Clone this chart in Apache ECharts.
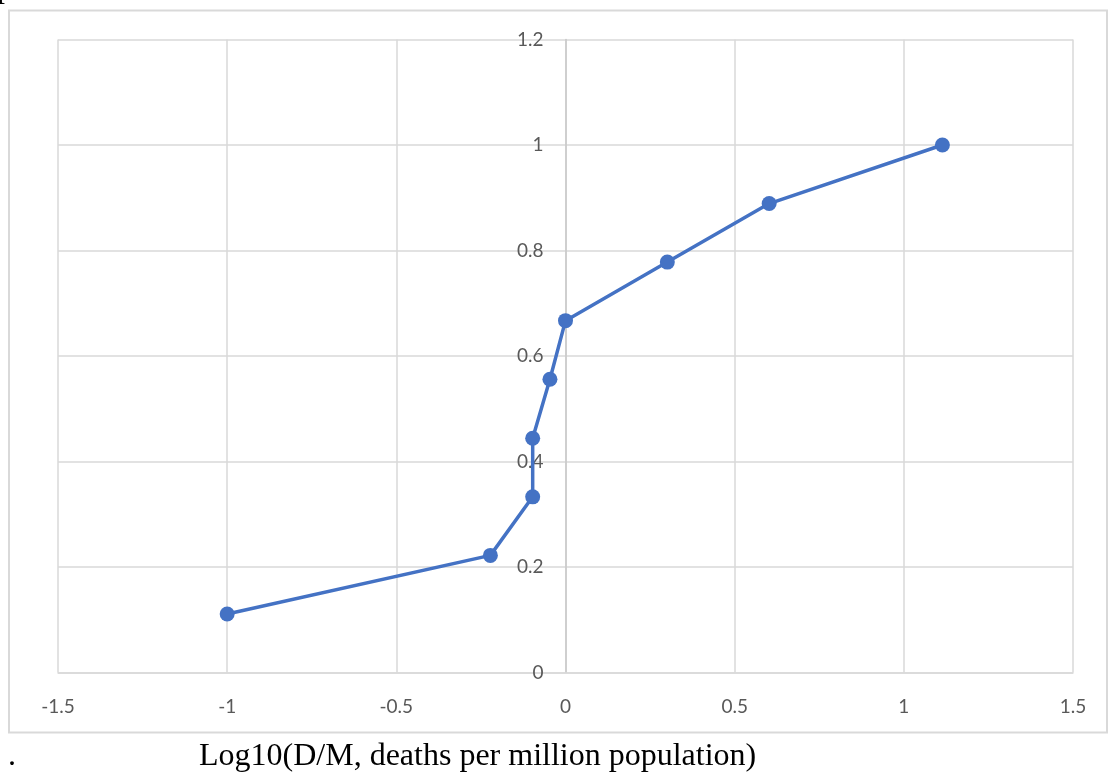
<!DOCTYPE html>
<html>
<head>
<meta charset="utf-8">
<title>Log10(D/M) curve</title>
<script src="https://cdn.jsdelivr.net/npm/echarts@6/dist/echarts.min.js"></script>
<style>
  html, body { margin: 0; padding: 0; background: #ffffff; }
  #chart { width: 1110px; height: 774px; }
</style>
</head>
<body>
<div id="chart"></div>
<script>
// Log10 of deaths per million population (x) against cumulative fraction (y)
const logDeathsPerMillion = [-1, -0.222, -0.097, -0.097, -0.046, 0, 0.301, 0.602, 1.114];
const cumulativeFraction = [0.111, 0.222, 0.333, 0.444, 0.556, 0.667, 0.778, 0.889, 1.0];

// Axis ranges
const xRange = { min: -1.5, max: 1.5, step: 0.5 };
const yRange = { min: 0, max: 1.2, step: 0.2 };

const captionText = 'Log10(D/M, deaths per million population)';

const points = logDeathsPerMillion.map((x, i) => [x, cumulativeFraction[i]]);

const gridLeft = 58, gridRight = 37;
const plotWidth = 1110 - gridLeft - gridRight;
// the vertical axis crosses the horizontal one at x = 0
const yAxisShift = plotWidth * (0 - xRange.min) / (xRange.max - xRange.min);

const chart = echarts.init(document.getElementById('chart'), null, { renderer: 'canvas' });

const tickFont = { fontFamily: 'Lato, "Open Sans", sans-serif', fontSize: 19, color: '#595959' };
const serif = '"Liberation Serif", "Times New Roman", serif';

chart.setOption({
  animation: false,
  backgroundColor: '#ffffff',
  grid: { left: gridLeft, right: gridRight, top: 39.5, bottom: 101.5, containLabel: false },
  xAxis: {
    type: 'value',
    min: xRange.min,
    max: xRange.max,
    interval: xRange.step,
    axisLine: { show: true, onZero: false, lineStyle: { color: '#d9d9d9', width: 1.5 } },
    axisTick: { show: false },
    axisLabel: Object.assign({ margin: 25 }, tickFont),
    splitLine: { show: true, lineStyle: { color: '#d9d9d9', width: 1.5 } }
  },
  yAxis: {
    type: 'value',
    min: yRange.min,
    max: yRange.max,
    interval: yRange.step,
    offset: -yAxisShift,
    axisLine: { show: true, onZero: false, lineStyle: { color: '#c8c8c8', width: 1.5 } },
    axisTick: { show: false },
    axisLabel: Object.assign({ margin: 22, verticalAlign: 'middle', padding: [4, 0, 0, 0] }, tickFont),
    splitLine: { show: true, lineStyle: { color: '#d9d9d9', width: 1.5 } }
  },
  series: [{
    type: 'line',
    data: points,
    symbol: 'circle',
    symbolSize: 15,
    itemStyle: { color: '#4472c4' },
    lineStyle: { color: '#4472c4', width: 3.5 },
    z: 5
  }],
  graphic: [
    {
      type: 'rect',
      shape: { x: 9, y: 10.5, width: 1098, height: 722 },
      style: { fill: null, stroke: '#d9d9d9', lineWidth: 2 },
      silent: true,
      z: -1
    },
    {
      type: 'text',
      left: 8, top: 741,
      style: { text: '.', font: '32px ' + serif, fill: '#000000' }
    },
    {
      type: 'text',
      left: 199, top: 741,
      style: { text: captionText, font: '32px ' + serif, fill: '#000000' }
    },
    {
      type: 'text',
      x: -3, y: 5,
      style: { text: 'p', font: '32px ' + serif, fill: '#000000', verticalAlign: 'bottom' }
    }
  ]
});
</script>
</body>
</html>
